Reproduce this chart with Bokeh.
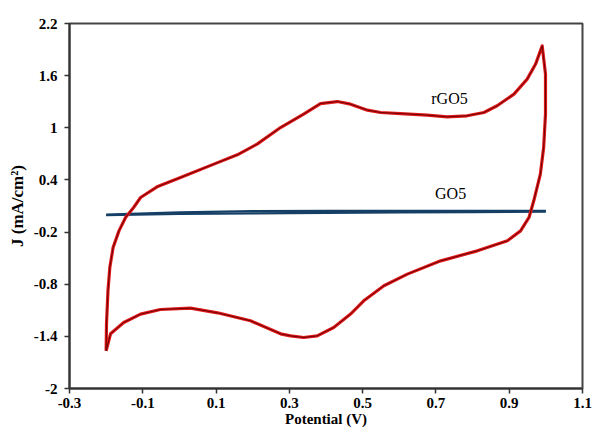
from bokeh.plotting import figure
from bokeh.models import Range1d, FixedTicker, Label
from bokeh.embed import file_html
from bokeh.resources import INLINE

# rGO5 cyclic voltammogram (closed loop), potential in V, J in mA/cm2
rgo5_potential = [-0.200, -0.199, -0.195, -0.190, -0.181, -0.165, -0.147, -0.125, -0.106,
                  -0.061, 0.003, 0.094, 0.158, 0.212, 0.276, 0.339, 0.385, 0.431, 0.467,
                  0.513, 0.549, 0.603, 0.676, 0.731, 0.785, 0.831, 0.867, 0.913, 0.949,
                  0.972, 0.990, 0.999, 0.999, 0.994, 0.985, 0.967, 0.954, 0.931, 0.895,
                  0.813, 0.713, 0.622, 0.558, 0.503, 0.467, 0.421, 0.376, 0.339, 0.303,
                  0.276, 0.194, 0.104, 0.030, -0.052, -0.106, -0.152, -0.188, -0.200]
rgo5_current = [-1.566, -1.256, -0.876, -0.608, -0.378, -0.186, -0.032, 0.083, 0.198,
                0.321, 0.428, 0.582, 0.689, 0.812, 1.003, 1.157, 1.279, 1.302, 1.272,
                1.203, 1.176, 1.164, 1.146, 1.126, 1.138, 1.176, 1.253, 1.388, 1.560,
                1.733, 1.943, 1.618, 1.157, 0.773, 0.467, 0.160, -0.032, -0.186, -0.301,
                -0.416, -0.531, -0.684, -0.818, -0.991, -1.144, -1.298, -1.394, -1.413, -1.394,
                -1.371, -1.221, -1.129, -1.075, -1.091, -1.144, -1.241, -1.371, -1.566]

# GO5 cyclic voltammogram: forward and reverse scans
go5_fwd_potential = [-0.2, 0.0, 0.2, 0.4, 0.6, 0.8, 1.0]
go5_fwd_current = [0.000, 0.026, 0.040, 0.044, 0.045, 0.045, 0.045]
go5_rev_potential = [1.0, 0.8, 0.6, 0.4, 0.2, 0.0, -0.2]
go5_rev_current = [0.036, 0.030, 0.026, 0.022, 0.016, 0.008, -0.004]

x_ticks = [-0.3, -0.1, 0.1, 0.3, 0.5, 0.7, 0.9, 1.1]
y_ticks = [-2.0, -1.4, -0.8, -0.2, 0.4, 1.0, 1.6, 2.2]
x_tick_labels = {-0.3: "-0.3", -0.1: "-0.1", 0.1: "0.1", 0.3: "0.3", 0.5: "0.5",
                 0.7: "0.7", 0.9: "0.9", 1.1: "1.1"}
y_tick_labels = {-2.0: "-2", -1.4: "-1.4", -0.8: "-0.8", -0.2: "-0.2", 0.4: "0.4",
                 1.0: "1", 1.6: "1.6", 2.2: "2.2"}

FONT = "Liberation Serif"

p = figure(width=592, height=432, output_backend="svg", toolbar_location=None,
           x_range=Range1d(-0.3, 1.1), y_range=Range1d(-2.0, 2.2),
           min_border_left=69, min_border_right=10, min_border_top=23, min_border_bottom=44)
p.background_fill_color = "white"
p.border_fill_color = "white"
p.outline_line_color = "#444444"
p.outline_line_width = 2
p.grid.visible = False

for ax, ticks, labels in ((p.xaxis[0], x_ticks, x_tick_labels), (p.yaxis[0], y_ticks, y_tick_labels)):
    ax.ticker = FixedTicker(ticks=ticks)
    ax.major_label_overrides = labels
    ax.axis_line_color = "#333333"
    ax.axis_line_width = 2
    ax.major_tick_line_color = "#333333"
    ax.major_tick_line_width = 1.5
    ax.major_tick_out = 5
    ax.major_tick_in = 0
    ax.minor_tick_out = 0
    ax.minor_tick_in = 0
    ax.major_label_text_font = FONT
    ax.major_label_text_font_style = "bold"
    ax.major_label_text_font_size = "15px"
    ax.major_label_text_color = "black"
    ax.axis_label_text_font = FONT
    ax.axis_label_text_font_style = "bold"
    ax.axis_label_text_color = "black"

p.xaxis.major_label_standoff = 4
p.yaxis.major_label_standoff = 7
p.xaxis.axis_label = "Potential (V)"
p.xaxis.axis_label_text_font_size = "15px"
p.xaxis.axis_label_standoff = 0
p.yaxis.axis_label = "J (mA/cm²)"
p.yaxis.axis_label_text_font_size = "17px"
p.yaxis.axis_label_standoff = 4

# GO5 (drawn first, underneath)
p.line(go5_fwd_potential, go5_fwd_current, line_color="#163f66", line_width=2.2)
p.line(go5_rev_potential, go5_rev_current, line_color="#163f66", line_width=2.2)

# rGO5
p.line(rgo5_potential, rgo5_current, line_color="#e01818", line_width=3.2, line_join="round")
p.line(rgo5_potential, rgo5_current, line_color="#5a0000", line_width=0.9, line_join="round")

p.add_layout(Label(x=0.737, y=1.333, text="rGO5", text_font=FONT, text_font_size="16px",
                   text_align="center", text_baseline="middle", text_color="black"))
p.add_layout(Label(x=0.74, y=0.24, text="GO5", text_font=FONT, text_font_size="16px",
                   text_align="center", text_baseline="middle", text_color="black"))

open("out.html", "w").write(file_html(p, INLINE))
